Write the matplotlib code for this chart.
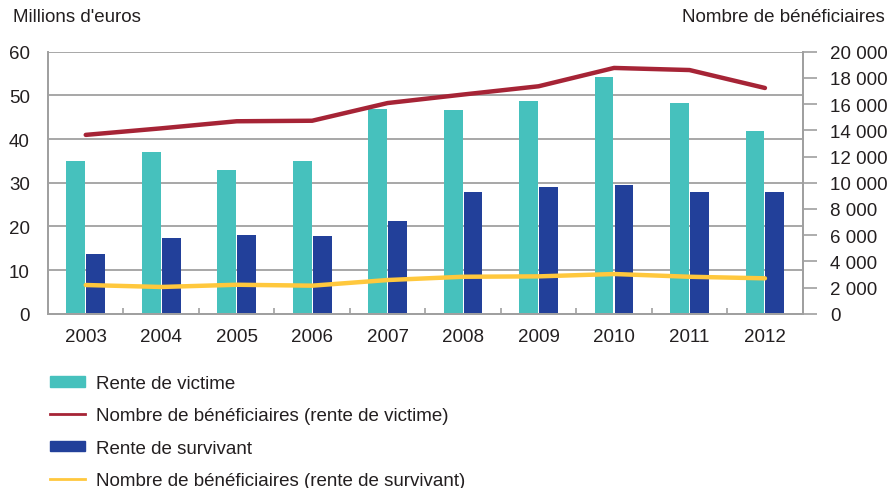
import numpy as np
import matplotlib
matplotlib.use("Agg")
import matplotlib.pyplot as plt
from matplotlib.lines import Line2D
from matplotlib.patches import Patch
from matplotlib.ticker import FuncFormatter

plt.rcParams['font.family'] = ['Liberation Sans', 'DejaVu Sans']

years = ['2003', '2004', '2005', '2006', '2007', '2008', '2009', '2010', '2011', '2012']
rente_victime = [35.0, 37.0, 33.0, 35.0, 46.9, 46.6, 48.7, 54.2, 48.2, 41.8]
rente_survivant = [13.7, 17.3, 18.0, 17.8, 21.2, 27.9, 29.0, 29.5, 27.9, 27.9]
benef_victime = [13650, 14150, 14690, 14730, 16080, 16730, 17360, 18760, 18600, 17230]
benef_survivant = [2190, 2040, 2210, 2140, 2570, 2820, 2850, 3030, 2820, 2700]

teal = '#46c1bd'
navy = '#22409a'
red = '#a62436'
yellow = '#ffc83d'
grey = '#a0a0a0'
txt = '#231f20'
fs = 13.5

fig = plt.figure(figsize=(8.88, 4.89), dpi=100)
ax = fig.add_axes([48/888, 1-314.7/489, (802.7-48)/888, (314.7-52.7)/489])
ax2 = ax.twinx()

x = np.arange(len(years))
w = 0.25
ax.bar(x - 0.132, rente_victime, width=w, color=teal, zorder=2)
ax.bar(x + 0.132, rente_survivant, width=w, color=navy, zorder=2)

ax2.plot(x, benef_victime, color=red, lw=3.2, solid_capstyle='round')
ax2.plot(x, benef_survivant, color=yellow, lw=3.2, solid_capstyle='round')

ax.set_xlim(-0.5, len(years) - 0.5)
ax.set_ylim(0, 60)
ax.set_yticks(range(0, 61, 10))
ax.yaxis.grid(True, color=grey, lw=1.3, zorder=0)
ax.set_axisbelow(True)
ax.tick_params(axis='y', length=0, pad=13, labelsize=fs, labelcolor=txt)

ax.set_xticks(x)
ax.set_xticklabels(years)
ax.tick_params(axis='x', length=0, pad=10, labelsize=fs, labelcolor=txt)
ax.set_xticks(np.arange(0.5, len(years) - 1, 1), minor=True)
ax.tick_params(axis='x', which='minor', direction='in', length=4, width=1.2, color=grey)

ax2.set_ylim(0, 20000)
ax2.set_yticks(range(0, 20001, 2000))
ax2.yaxis.set_major_formatter(FuncFormatter(lambda v, p: f"{int(v):,}".replace(',', ' ')))
ax2.tick_params(axis='y', direction='out', length=10, width=1.2, color=grey,
                pad=10, labelsize=fs, labelcolor=txt)

for a in (ax, ax2):
    for s in a.spines.values():
        s.set_color(grey)
        s.set_linewidth(1.3)
    a.spines['top'].set_visible(False)

fig.text(13/888, 1-18/489, "Millions d'euros", fontsize=fs, color=txt, va='center', ha='left')
fig.text(885/888, 1-18/489, "Nombre de bénéficiaires", fontsize=fs, color=txt, va='center', ha='right')

handles = [
    Patch(color=teal),
    Line2D([], [], color=red, lw=2),
    Patch(color=navy),
    Line2D([], [], color=yellow, lw=2),
]
labels = ['Rente de victime',
          'Nombre de bénéficiaires (rente de victime)',
          'Rente de survivant',
          'Nombre de bénéficiaires (rente de survivant)']
fig.legend(handles, labels, loc='upper left', bbox_to_anchor=(50/888, 1-376/489),
           frameon=False, fontsize=fs, handlelength=1.85, handleheight=0.5,
           handletextpad=0.6, labelspacing=0.82, borderpad=0, borderaxespad=0,
           labelcolor=txt)

plt.savefig('out.png', dpi=100)
